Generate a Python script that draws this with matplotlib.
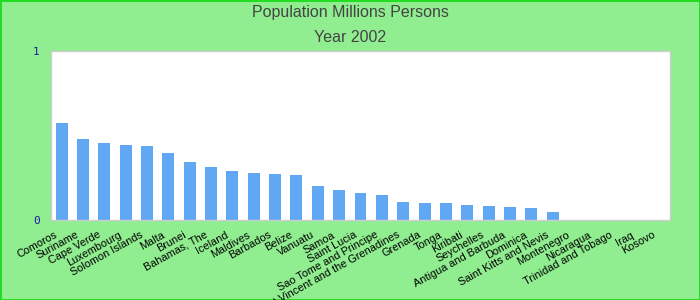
import matplotlib
matplotlib.use("Agg")
import matplotlib.pyplot as plt
from matplotlib.transforms import ScaledTranslation

# population in millions, year 2002
countries = [
    "Comoros", "Suriname", "Cape Verde", "Luxembourg", "Solomon Islands",
    "Malta", "Brunei", "Bahamas, The", "Iceland", "Maldives", "Barbados",
    "Belize", "Vanuatu", "Samoa", "Saint Lucia", "Sao Tome and Principe",
    "Saint Vincent and the Grenadines", "Grenada", "Tonga", "Kiribati",
    "Seychelles", "Antigua and Barbuda", "Dominica", "Saint Kitts and Nevis",
    "Montenegro", "Nicaragua", "Trinidad and Tobago", "Iraq", "Kosovo",
]
population = [
    0.574, 0.479, 0.456, 0.444, 0.438, 0.396, 0.343, 0.314, 0.290, 0.278,
    0.272, 0.266, 0.201, 0.178, 0.160, 0.148, 0.107, 0.101, 0.101, 0.089,
    0.083, 0.077, 0.071, 0.047, 0, 0, 0, 0, 0,
]
y_ticks = [0, 1]

plt.rcParams["font.family"] = ["Liberation Sans", "DejaVu Sans"]

fig = plt.figure(figsize=(7, 3), dpi=100)
fig.patch.set_facecolor("#90ee90")
fig.patch.set_edgecolor("#22dd22")
fig.patch.set_linewidth(2)

ax = fig.add_axes([51 / 700, 80 / 300, 619 / 700, 169 / 300])
ax.set_facecolor("white")

x = list(range(len(countries)))
ax.bar(x, population, width=0.56, color="#61a8f4", zorder=2)

ax.set_xlim(-0.5, len(countries) - 0.5)
ax.set_ylim(0, 1)
ax.set_yticks(y_ticks)
ax.set_yticklabels([str(v) for v in y_ticks], color="#1a1aa6",
                   fontsize=8, family="DejaVu Sans Mono")
ax.set_xticks(x)
ax.set_xticklabels(countries, rotation=29, ha="right",
                   rotation_mode="anchor", fontsize=7.8, color="black")
ax.tick_params(axis="x", length=0, pad=7)
ax.tick_params(axis="y", length=0, pad=8)

# shift the slanted labels a bit left, like the original
shift = ScaledTranslation(-7 / 100, 0, fig.dpi_scale_trans)
for lbl in ax.get_xticklabels():
    lbl.set_transform(lbl.get_transform() + shift)

for spine in ax.spines.values():
    spine.set_color("#cccccc")
    spine.set_linewidth(1)

fig.text(0.5, 1 - 13 / 300, "Population Millions Persons", ha="center",
         va="center", fontsize=11.5, color="#444444")
fig.text(0.5, 1 - 37 / 300, "Year 2002", ha="center", va="center",
         fontsize=11.5, color="#444444")

fig.savefig("out.png", dpi=100, facecolor=fig.get_facecolor(),
            edgecolor=fig.get_edgecolor())
plt.close(fig)
